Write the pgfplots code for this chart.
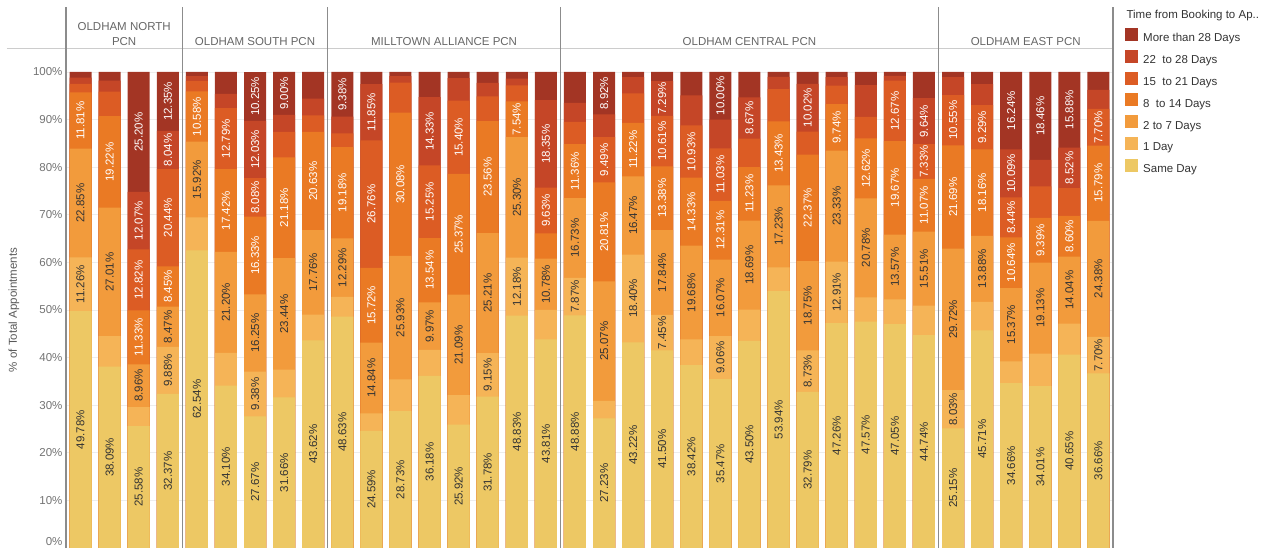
\documentclass[border=0pt]{standalone}
\usepackage{pgfplots}
\pgfplotsset{compat=1.18}
\usepackage{pgfplotstable}
\usepackage{fontspec}
\setmainfont{Liberation Sans}

\definecolor{cSD}{HTML}{EDC864}
\definecolor{cA}{HTML}{F5B457}
\definecolor{cB}{HTML}{F29B3C}
\definecolor{cC}{HTML}{EA7A24}
\definecolor{cD}{HTML}{DC5C24}
\definecolor{cE}{HTML}{C54627}
\definecolor{cF}{HTML}{A33524}
\definecolor{txt}{HTML}{333333}

\newcommand\labfont{\fontsize{11.5}{13}\selectfont}

% share of appointments per practice: same day, 1 day, 2-7, 8-14, 15-21, 22-28, >28 days
\pgfplotstableread{
x  sd    a     b     c     d     e     f
0  49.78 11.26 22.85 11.81 1.80  1.30  1.20
1  38.09 6.40  27.01 19.22 5.18  2.30  1.80
2  25.58 4.04  8.96  11.33 12.82 12.07 25.20
3  32.37 9.88  8.47  8.45  20.44 8.04  12.35
4  62.54 6.90  15.92 10.58 2.20  1.00  0.86
5  34.10 6.89  21.20 17.42 12.79 3.00  4.60
6  27.67 9.38  16.25 16.33 8.08  12.03 10.25
7  31.66 5.80  23.44 21.18 5.32  3.60  9.00
8  43.62 5.40  17.76 20.63 3.50  3.50  5.59
9  48.63 4.12  12.29 19.18 2.90  3.50  9.38
10 24.59 3.70  14.84 15.72 26.76 11.85 2.54
11 28.73 6.70  25.93 30.08 6.30  1.40  0.86
12 36.18 5.43  9.97  13.54 15.25 14.33 5.30
13 25.92 6.20  21.09 25.37 15.40 4.72  1.30
14 31.78 9.15  25.21 23.56 5.20  2.80  2.30
15 48.83 12.18 25.30 7.54  3.35  1.40  1.40
16 43.81 6.20  10.78 5.30  9.63  18.35 5.93
17 48.88 7.87  16.73 11.36 4.66  4.00  6.50
18 27.23 3.70  25.07 20.81 9.49  4.78  8.92
19 43.22 18.40 16.47 11.22 6.20  3.40  1.09
20 41.50 7.45  17.84 13.38 10.61 7.29  1.93
21 38.42 5.40  19.68 14.33 10.93 6.34  4.90
22 35.47 9.06  16.07 12.31 11.03 6.06  10.00
23 43.50 6.60  18.69 11.23 6.00  8.67  5.31
24 53.94 5.00  17.23 13.43 6.80  2.60  1.00
25 32.79 8.73  18.75 22.37 4.84  10.02 2.50
26 47.26 12.91 23.33 9.74  3.90  1.80  1.06
27 47.57 5.10  20.78 12.62 4.50  6.65  2.78
28 47.05 5.20  13.57 19.67 12.67 1.00  0.84
29 44.74 6.20  15.51 11.07 7.33  9.64  5.51
30 25.15 8.03  29.72 21.69 10.55 3.76  1.10
31 45.71 6.00  13.88 18.16 9.29  4.40  2.56
32 34.66 4.56  15.37 10.64 8.44  10.09 16.24
33 34.01 6.80  19.13 9.39  6.65  5.56  18.46
34 40.65 6.50  14.04 8.60  5.81  8.52  15.88
35 36.66 7.70  24.38 15.79 7.70  4.00  3.77
}\data

\pgfplotsset{
  seg/.style={ybar, bar width=22pt, bar shift=0pt, draw=none, fill=#1},
  lab/.style={forget plot, draw=none, mark=none, point meta=explicit,
    unbounded coords=discard,
    nodes near coords={\pgfmathprintnumber[fixed,fixed zerofill,precision=2]{\pgfplotspointmeta}\%},
    every node near coord/.append style={rotate=90, anchor=center, inner sep=0pt, font=\labfont, text=#1}},
}
\tikzset{hdr/.style={anchor=base, font=\labfont, text=black!60}}

\begin{document}
\begin{tikzpicture}
\begin{axis}[
  scale only axis, width=1047pt, height=499.8pt,
  at={(0,0)}, anchor=south west,
  xmin=-0.5, xmax=35.5, ymin=0, ymax=105,
  xtick=\empty,
  ytick={10,20,...,100},
  yticklabel={\pgfmathprintnumber{\tick}\%},
  extra y ticks={0}, extra y tick labels={0\%},
  extra y tick style={yticklabel style={yshift=6pt}},
  /pgf/number format/assume math mode=true,
  tick label style={font=\labfont, text=black!55},
  major tick length=0pt,
  ymajorgrids, grid style={black!7, line width=0.8pt},
  axis line style={draw=none},
  clip=false,
  legend cell align=left,
  legend style={at={(1,1)}, anchor=north west, xshift=12pt, yshift=20.7pt,
    draw=none, fill=none, inner sep=0pt, row sep=6.6pt,
    nodes={inner sep=0pt, font=\labfont, text=txt},
    /tikz/every odd column/.append style={column sep=5pt}},
  legend image code/.code={\fill[#1, draw=none] (0pt,-2.5pt) rectangle (13pt,10.5pt);},
]
\addplot[seg=cF] table[x=x, y expr=\thisrow{sd}+\thisrow{a}+\thisrow{b}+\thisrow{c}+\thisrow{d}+\thisrow{e}+\thisrow{f}] {\data};
\addplot[seg=cE] table[x=x, y expr=\thisrow{sd}+\thisrow{a}+\thisrow{b}+\thisrow{c}+\thisrow{d}+\thisrow{e}] {\data};
\addplot[seg=cD] table[x=x, y expr=\thisrow{sd}+\thisrow{a}+\thisrow{b}+\thisrow{c}+\thisrow{d}] {\data};
\addplot[seg=cC] table[x=x, y expr=\thisrow{sd}+\thisrow{a}+\thisrow{b}+\thisrow{c}] {\data};
\addplot[seg=cB] table[x=x, y expr=\thisrow{sd}+\thisrow{a}+\thisrow{b}] {\data};
\addplot[seg=cA] table[x=x, y expr=\thisrow{sd}+\thisrow{a}] {\data};
\addplot[seg=cSD] table[x=x, y=sd] {\data};
\legend{More than 28 Days, 22\ \ to 28 Days, 15\ \ to 21 Days, 8\ \ to 14 Days, 2 to 7 Days, 1 Day, Same Day}

% segment labels, centred in each segment; segments under 7% carry none
\addplot[lab=txt] table[x=x, y expr={\thisrow{sd}<7 ? nan : \thisrow{sd}/2}, meta=sd] {\data};
\addplot[lab=txt] table[x=x, y expr={\thisrow{a}<7 ? nan : \thisrow{sd}+\thisrow{a}/2}, meta=a] {\data};
\addplot[lab=txt] table[x=x, y expr={\thisrow{b}<7 ? nan : \thisrow{sd}+\thisrow{a}+\thisrow{b}/2}, meta=b] {\data};
\addplot[lab=white] table[x=x, y expr={\thisrow{c}<7 ? nan : \thisrow{sd}+\thisrow{a}+\thisrow{b}+\thisrow{c}/2}, meta=c] {\data};
\addplot[lab=white] table[x=x, y expr={\thisrow{d}<7 ? nan : \thisrow{sd}+\thisrow{a}+\thisrow{b}+\thisrow{c}+\thisrow{d}/2}, meta=d] {\data};
\addplot[lab=white] table[x=x, y expr={\thisrow{e}<7 ? nan : \thisrow{sd}+\thisrow{a}+\thisrow{b}+\thisrow{c}+\thisrow{d}+\thisrow{e}/2}, meta=e] {\data};
\addplot[lab=white] table[x=x, y expr={\thisrow{f}<7 ? nan : \thisrow{sd}+\thisrow{a}+\thisrow{b}+\thisrow{c}+\thisrow{d}+\thisrow{e}+\thisrow{f}/2}, meta=f] {\data};

% panel frame and group separators
\draw[black!20, line width=0.9pt] ([xshift=-59pt]axis cs:-0.5,105) -- (axis cs:35.5,105);
\pgfplotsinvokeforeach{-0.5,3.5,8.5,16.5,29.5,35.5}{
  \draw[black!45, line width=1.2pt] (axis cs:#1,0) -- ([yshift=40.7pt]axis cs:#1,105);
}

\node[hdr, yshift=17.7pt] at (axis cs:1.5,105) {OLDHAM NORTH};
\node[hdr, yshift=2.7pt] at (axis cs:1.5,105) {PCN};
\node[hdr, yshift=2.7pt] at (axis cs:6,105) {OLDHAM SOUTH PCN};
\node[hdr, yshift=2.7pt] at (axis cs:12.5,105) {MILLTOWN ALLIANCE PCN};
\node[hdr, yshift=2.7pt] at (axis cs:23,105) {OLDHAM CENTRAL PCN};
\node[hdr, yshift=2.7pt] at (axis cs:32.5,105) {OLDHAM EAST PCN};

\node[rotate=90, font=\labfont, text=black!65] at ([xshift=-52pt]axis cs:-0.5,50) {\% of Total Appointments};
\node[anchor=base west, font=\labfont, text=txt] at ([xshift=10pt, yshift=29.2pt]axis cs:35.5,105) {Time from Booking to Ap..};
\end{axis}
\pgfresetboundingbox
\path[use as bounding box] (-66pt,0) rectangle (1201pt,548pt);
\end{tikzpicture}
\end{document}
